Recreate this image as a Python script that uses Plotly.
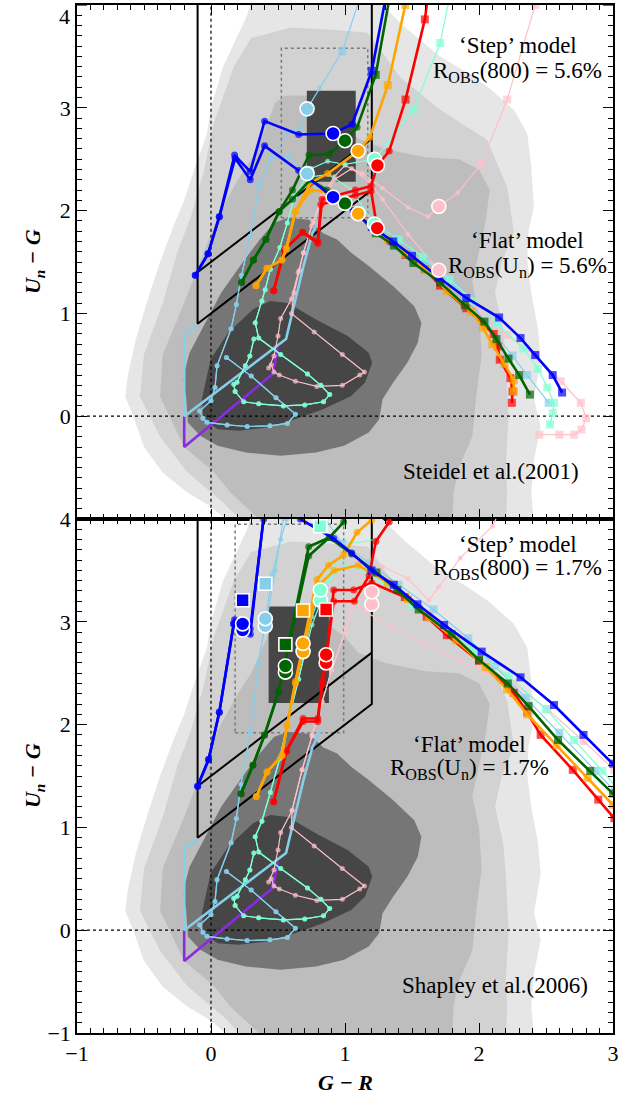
import numpy as np
import plotly.graph_objects as go

X_RANGE = [-1, 3]
Y_RANGE = [-1, 4]

# ---------------- photometric sample: filled density contours (G-R, Un-G) ----------------
CONTOUR_1 = [(0.15, -1.05), (0.0, -0.88), (-0.18, -0.74), (-0.36, -0.55), (-0.5, -0.3), (-0.58, 0.0),
             (-0.64, 0.19), (-0.62, 0.4), (-0.56, 0.75), (-0.48, 1.1), (-0.38, 1.5), (-0.28, 1.85),
             (-0.2, 2.1), (-0.12, 2.42), (-0.03, 2.75), (0.0, 3.0), (0.09, 3.4), (0.17, 3.63),
             (0.27, 3.9), (0.3, 4.05), (1.24, 4.05), (1.45, 3.78), (1.71, 3.5), (1.9, 3.35),
             (2.07, 3.2), (2.26, 2.98), (2.36, 2.75), (2.39, 2.43), (2.41, 2.04), (2.37, 1.8),
             (2.36, 1.52), (2.39, 1.2), (2.44, 0.85), (2.46, 0.55), (2.41, 0.17), (2.46, -0.1),
             (2.41, -0.42), (2.39, -0.74), (2.41, -1.05)]
CONTOUR_2 = [(0.25, -1.05), (0.1, -0.85), (-0.18, -0.54), (-0.38, -0.2), (-0.53, 0.19), (-0.5, 0.6),
             (-0.36, 1.1), (-0.25, 1.6), (-0.15, 1.94), (-0.05, 2.4), (0.02, 2.85), (0.1, 3.15),
             (0.17, 3.4), (0.3, 3.68), (0.6, 3.78), (0.9, 3.76), (1.17, 3.73), (1.3, 3.5),
             (1.41, 3.3), (1.71, 2.98), (2.06, 2.69), (2.21, 2.23), (2.26, 1.79), (2.17, 1.5),
             (2.12, 1.2), (2.18, 0.85), (2.2, 0.55), (2.22, 0.0), (2.2, -0.5), (2.21, -0.74),
             (2.2, -1.05)]
CONTOUR_3 = [(0.4, -1.05), (0.15, -0.75), (0.02, -0.54), (-0.2, -0.3), (-0.38, 0.19), (-0.36, 0.6),
             (-0.2, 1.1), (-0.05, 1.6), (0.05, 1.94), (0.2, 2.3), (0.3, 2.5), (0.42, 2.85),
             (0.48, 3.05), (0.55, 3.12), (0.75, 3.12), (0.85, 3.0), (1.0, 2.85), (1.1, 2.7),
             (1.3, 2.6), (1.6, 2.52), (1.85, 2.5), (2.0, 2.4), (2.08, 2.2), (2.05, 1.9), (2.0, 1.6),
             (1.95, 1.3), (2.0, 1.0), (2.02, 0.6), (1.98, 0.2), (1.95, -0.2), (1.85, -0.5),
             (1.81, -0.74), (1.8, -1.05)]
CONTOUR_4 = [(-0.186, 0.197), (-0.212, 0.359), (-0.16, 0.618), (-0.055, 0.877), (0.076, 1.2),
             (0.233, 1.49), (0.364, 1.72), (0.469, 1.88), (0.574, 1.93), (0.731, 1.91), (0.836, 1.78),
             (0.941, 1.72), (1.046, 1.59), (1.177, 1.46), (1.36, 1.265), (1.517, 1.07), (1.57, 0.909),
             (1.543, 0.715), (1.465, 0.521), (1.36, 0.327), (1.28, 0.165), (1.255, -0.029),
             (1.177, -0.159), (0.993, -0.288), (0.784, -0.353), (0.521, -0.385), (0.26, -0.353),
             (0.05, -0.288), (-0.08, -0.191), (-0.173, -0.061)]
CONTOUR_5 = [(-0.068, 0.165), (-0.003, 0.553), (0.128, 0.812), (0.312, 1.039), (0.443, 1.12),
             (0.574, 1.10), (0.784, 0.94), (1.02, 0.78), (1.177, 0.618), (1.203, 0.521),
             (1.15, 0.327), (1.046, 0.197), (0.836, 0.068), (0.626, -0.029), (0.417, -0.11),
             (0.207, -0.142), (0.05, -0.126), (-0.055, -0.029)]
CONTOURS = [CONTOUR_1, CONTOUR_2, CONTOUR_3, CONTOUR_4, CONTOUR_5]
CONTOUR_SHADES = ["#e6e6e6", "#d2d2d2", "#bdbdbd", "#767676", "#464646"]

# ---------------- colour-selection windows ----------------
SEL_BOX_X = [-0.1, -0.1, 1.2, 1.2]
SEL_BOX_Y = [4.5, 0.9, 2.2, 4.5]
SEL_UPPER_X = [-0.1, 1.2]
SEL_UPPER_Y = [1.4, 2.7]

# observed-sample windows (x0, x1, y0, y1)
S01_CORE = [0.715, 1.08, 2.28, 3.165]
S01_WINDOW = [0.525, 1.17, 1.93, 3.58]
S06_CORE = [0.43, 0.88, 2.21, 3.15]
S06_WINDOW = [0.18, 0.99, 1.92, 3.95]

# low-redshift tracks common to both panels
PURPLE_TRACK = [(-0.2, 0.0), (-0.2, -0.3), (0.46, 0.41), (0.5, 0.66)]
SKY_THICK_TRACK = [(-0.1, 0.88), (-0.2, 0.8), (-0.2, 0.0), (0.56, 0.75), (0.6, 0.97),
                   (0.69, 1.46), (0.757, 1.78), (0.82, 1.95)]

# ---------------- model tracks: (G-R, Un-G, kind)  o = dot, s = square, B = labelled z ----------------
AQUA_LOOP = [(0.32, 0.75), (0.29, 0.585), (0.256, 0.49), (0.194, 0.33), (0.17, 0.31), (0.18, 0.24),
             (0.244, 0.14), (0.356, 0.12), (0.54, 0.10), (0.70, 0.11), (0.84, 0.14), (0.886, 0.21),
             (0.82, 0.30), (0.72, 0.41), (0.52, 0.60), (0.356, 0.76), (0.33, 0.91)]
SKY_LOOP = [(0.115, 0.57), (0.30, 0.39), (0.485, 0.18), (0.63, 0.02), (0.57, -0.07), (0.44, -0.094),
            (0.27, -0.10), (0.12, -0.085), (-0.03, -0.06), (-0.06, -0.02), (-0.085, 0.05),
            (0.0, 0.15), (0.03, 0.28), (0.045, 0.49), (0.15, 0.85), (0.189, 1.087)]
PINK_LOOP = [(0.45, 0.50), (0.47, 0.43), (0.51, 0.40), (0.63, 0.34), (0.79, 0.29), (0.98, 0.30),
             (1.11, 0.40), (1.145, 0.43), (0.98, 0.60), (0.77, 0.82), (0.60, 1.00)]
PINK_COLUMN = [(0.43, 0.47), (0.47, 0.585), (0.50, 0.78), (0.52, 0.95)]

# Steidel et al. (2001) panel
S01_BLUE_STEP = [(-0.117, 1.37), (-0.022, 1.58), (0.062, 1.94), (0.176, 2.54), (0.293, 2.38),
                 (0.40, 2.87), (0.654, 2.74), (0.911, 2.75, 'B'), (1.053, 2.84), (1.20, 3.36, 's'),
                 (1.33, 4.25, 's')]
S01_BLUE_FLAT = [(-0.117, 1.37), (-0.022, 1.58), (0.062, 1.94), (0.18, 2.51), (0.293, 2.30),
                 (0.40, 2.63), (0.654, 2.39), (0.911, 2.13, 'B'), (1.06, 2.00), (1.20, 1.84, 's'),
                 (1.36, 1.70, 's'), (1.50, 1.56, 's'), (1.70, 1.35, 's'), (1.905, 1.15, 's'),
                 (2.15, 0.96, 's'), (2.31, 0.76, 's'), (2.42, 0.595, 's'), (2.55, 0.40, 's'),
                 (2.62, 0.23, 's')]
S01_GREEN_STEP = [(0.228, 1.30), (0.317, 1.52), (0.41, 1.72), (0.508, 1.99), (0.608, 2.20),
                  (0.731, 2.54), (0.883, 2.55), (1.0, 2.68, 'B'), (1.09, 2.81), (1.229, 3.32, 's'),
                  (1.35, 4.2, 's')]
S01_GREEN_FLAT = [(0.228, 1.30), (0.317, 1.52), (0.41, 1.72), (0.508, 1.99), (0.608, 2.11),
                  (0.74, 2.30), (0.866, 2.20), (1.0, 2.07, 'B'), (1.10, 1.96), (1.23, 1.78, 's'),
                  (1.365, 1.66, 's'), (1.51, 1.49, 's'), (1.71, 1.30, 's'), (1.894, 1.08, 's'),
                  (2.04, 0.92, 's'), (2.13, 0.75, 's'), (2.22, 0.56, 's'), (2.30, 0.40, 's'),
                  (2.38, 0.21, 's')]
S01_ORANGE_STEP = [(0.336, 1.27), (0.418, 1.44), (0.53, 1.52), (0.562, 1.63), (0.63, 1.99),
                   (0.742, 2.27), (0.87, 2.36), (1.098, 2.58, 'B'), (1.185, 2.71), (1.32, 3.22, 's'),
                   (1.45, 4.0, 's')]
S01_ORANGE_FLAT = [(0.336, 1.27), (0.418, 1.44), (0.53, 1.52), (0.562, 1.63), (0.63, 1.99),
                   (0.742, 2.20), (0.87, 2.18), (1.098, 1.97, 'B'), (1.20, 1.85), (1.32, 1.72, 's'),
                   (1.45, 1.58, 's'), (1.60, 1.43, 's'), (1.76, 1.22, 's'), (1.94, 1.02, 's'),
                   (2.03, 0.86, 's'), (2.10, 0.70, 's'), (2.19, 0.51, 's'), (2.26, 0.35, 's'),
                   (2.26, 0.24, 's')]
S01_RED_STEP = [(0.468, 1.22), (0.548, 1.62), (0.684, 1.79), (0.797, 1.70), (0.83, 2.11),
                (1.077, 2.20), (1.195, 2.24), (1.242, 2.44, 'B'), (1.33, 2.58), (1.452, 3.08, 's'),
                (1.596, 3.86, 's'), (1.64, 4.3, 's')]
S01_RED_FLAT = [(0.468, 1.22), (0.548, 1.62), (0.684, 1.79), (0.797, 1.68), (0.82, 2.06),
                (1.077, 2.15), (1.195, 2.19), (1.24, 1.83, 'B'), (1.33, 1.70), (1.452, 1.57, 's'),
                (1.596, 1.43, 's'), (1.71, 1.27, 's'), (1.905, 1.05, 's'), (2.11, 0.80, 's'),
                (2.14, 0.68, 's'), (2.155, 0.55, 's'), (2.235, 0.37, 's'), (2.25, 0.24, 's'),
                (2.245, 0.13, 's')]
S01_AQUA_RISE = [(0.38, 1.12), (0.404, 1.23), (0.443, 1.43), (0.514, 1.64), (0.569, 1.88), (0.626, 2.14)]
S01_AQUA_STEP = [(0.75, 2.41), (0.87, 2.48), (1.0, 2.45), (1.22, 2.50, 'B'), (1.33, 2.67),
                 (1.51, 2.98, 's'), (1.71, 3.63, 's'), (1.8, 4.2, 's')]
S01_AQUA_FLAT = [(0.75, 2.33), (0.88, 2.35), (1.05, 2.2), (1.22, 1.87, 'B'), (1.40, 1.72, 's'),
                 (1.58, 1.55, 's'), (1.78, 1.33, 's'), (1.96, 1.12, 's'), (2.136, 0.90, 's'),
                 (2.33, 0.66, 's'), (2.44, 0.46, 's'), (2.51, 0.28, 's'), (2.56, 0.13, 's'),
                 (2.55, 0.03, 's'), (2.53, -0.08, 's')]
S01_SKY_RISE = [(0.228, 1.37), (0.293, 1.75), (0.356, 2.24), (0.45, 2.51)]
S01_SKY_STEP = [(0.58, 2.77), (0.667, 2.80), (0.717, 2.99, 'B'), (0.81, 3.19), (0.98, 3.55, 's'),
                (1.12, 4.1, 's')]
S01_SKY_FLAT = [(0.58, 2.53), (0.717, 2.36, 'B'), (0.80, 2.25), (0.95, 2.12), (1.10, 1.98),
                (1.20, 1.86), (1.37, 1.73, 's'), (1.60, 1.51, 's'), (1.825, 1.265, 's'),
                (2.05, 0.92, 's'), (2.25, 0.59, 's'), (2.36, 0.40, 's'), (2.52, 0.13, 's')]
S01_PINK_STEP = [(0.62, 1.20), (0.66, 1.42), (0.69, 1.59), (0.76, 1.88), (0.83, 2.14), (0.92, 2.33),
                 (1.0, 2.44), (1.13, 2.36), (1.28, 2.22), (1.47, 2.03), (1.62, 1.94), (1.70, 2.04, 'B'),
                 (1.84, 2.17), (2.02, 2.46, 's'), (2.21, 3.08, 's'), (2.42, 4.0, 's')]
S01_PINK_FLAT = [(0.60, 1.14), (0.65, 1.40), (0.69, 1.59), (0.75, 1.85), (0.83, 2.10), (0.92, 2.30),
                 (1.05, 2.41), (1.18, 2.28), (1.28, 2.11), (1.47, 1.77), (1.70, 1.42, 'B'),
                 (1.84, 1.22), (2.02, 1.01, 's'), (2.21, 0.79, 's'), (2.42, 0.585, 's'),
                 (2.61, 0.34, 's'), (2.76, 0.13, 's'), (2.80, -0.02, 's'), (2.765, -0.13, 's'),
                 (2.71, -0.18, 's'), (2.60, -0.18, 's'), (2.45, -0.18, 's')]

# Shapley et al. (2006) panel
S06_BLUE_STEP = [(-0.1, 1.40), (-0.018, 1.66), (0.062, 2.12), (0.169, 2.98), (0.176, 3.02),
                 (0.293, 2.93), (0.393, 4.0), (0.42, 4.3)]
S06_BLUE_FLAT = [(-0.1, 1.40), (-0.018, 1.66), (0.062, 2.12), (0.169, 2.98), (0.293, 2.88),
                 (0.40, 4.1), (0.55, 4.4), (0.667, 4.0), (0.916, 3.81), (1.05, 3.67),
                 (1.197, 3.50, 's'), (1.364, 3.36, 's'), (1.54, 3.17, 's'), (1.74, 2.97, 's'),
                 (2.02, 2.71, 's'), (2.31, 2.46, 's'), (2.56, 2.19, 's'), (2.78, 1.90, 's'),
                 (3.0, 1.62, 's'), (3.15, 1.42, 's')]
S06_GREEN_STEP = [(0.224, 1.327), (0.313, 1.605), (0.40, 1.90), (0.505, 2.32), (0.729, 3.64),
                  (0.883, 3.82), (0.99, 3.97), (1.05, 4.3)]
S06_GREEN_FLAT = [(0.224, 1.327), (0.313, 1.605), (0.40, 1.90), (0.505, 2.32), (0.729, 3.73),
                  (0.883, 3.82), (1.05, 3.66), (1.235, 3.48, 's'), (1.39, 3.31, 's'), (1.55, 3.12, 's'),
                  (1.795, 2.88, 's'), (2.0, 2.63, 's'), (2.215, 2.40, 's'), (2.37, 2.18, 's'),
                  (2.59, 1.85, 's'), (2.83, 1.55, 's'), (3.0, 1.33, 's'), (3.1, 1.2, 's')]
S06_ORANGE_STEP = [(0.338, 1.30), (0.418, 1.54), (0.53, 1.70), (0.567, 1.99), (0.63, 2.42),
                   (0.79, 3.41), (0.878, 3.55), (0.99, 3.65), (1.09, 3.87), (1.2, 3.99), (1.25, 4.3)]
S06_ORANGE_FLAT = [(0.338, 1.30), (0.418, 1.54), (0.53, 1.70), (0.567, 1.99), (0.63, 2.40),
                   (0.80, 3.35), (0.92, 3.50), (1.1, 3.55), (1.32, 3.38, 's'), (1.47, 3.22, 's'),
                   (1.625, 3.04, 's'), (1.83, 2.82, 's'), (2.05, 2.56, 's'), (2.21, 2.34, 's'),
                   (2.36, 2.10, 's'), (2.58, 1.80, 's'), (2.81, 1.48, 's'), (3.0, 1.22, 's'),
                   (3.1, 1.08, 's')]
S06_RED_STEP = [(0.468, 1.25), (0.562, 1.74), (0.687, 2.03), (0.797, 2.03), (0.83, 2.40),
                (0.859, 2.64), (0.916, 3.20), (1.07, 3.20), (1.18, 3.45), (1.23, 3.78),
                (1.33, 3.97), (1.38, 4.3)]
S06_RED_FLAT = [(0.468, 1.25), (0.562, 1.74), (0.687, 2.06), (0.797, 2.06), (0.83, 2.42),
                (0.859, 2.64), (0.916, 3.31), (1.065, 3.31), (1.2, 3.38), (1.446, 3.24, 's'),
                (1.61, 3.05, 's'), (1.76, 2.87, 's'), (2.0, 2.62, 's'), (2.26, 2.31, 's'),
                (2.36, 2.12, 's'), (2.46, 1.90, 's'), (2.70, 1.56, 's'), (2.89, 1.27, 's'),
                (3.01, 1.09, 's'), (3.1, 0.95, 's')]
S06_AQUA_RISE = [(0.38, 1.06), (0.443, 1.34), (0.513, 1.67), (0.567, 1.99), (0.654, 2.44)]
S06_AQUA_STEP = [(0.754, 3.05), (0.866, 3.45), (0.99, 3.65), (1.03, 3.76), (1.23, 3.80),
                 (1.33, 3.97), (1.4, 4.3)]
S06_AQUA_FLAT = [(0.754, 2.97), (0.88, 3.40), (1.0, 3.55), (1.15, 3.50), (1.30, 3.36, 's'),
                 (1.50, 3.16, 's'), (1.72, 2.95, 's'), (1.96, 2.73, 's'), (2.22, 2.47, 's'),
                 (2.50, 2.15, 's'), (2.71, 1.85, 's'), (2.92, 1.55, 's'), (3.05, 1.35, 's')]
S06_SKY_RISE = [(0.224, 1.42), (0.293, 1.92), (0.356, 2.60), (0.405, 3.0)]
S06_SKY_STEP = [(0.455, 3.46), (0.52, 3.80), (0.567, 4.0), (0.6, 4.3)]
S06_SKY_FLAT = [(0.42, 3.05), (0.48, 3.50), (0.54, 4.0), (0.6, 4.4), (0.8, 4.1),
                (0.98, 3.76, 's'), (1.18, 3.57, 's'), (1.40, 3.36, 's'), (1.66, 3.12, 's'),
                (1.92, 2.84, 's'), (2.12, 2.57, 's'), (2.35, 2.26, 's'), (2.60, 1.92, 's'),
                (2.87, 1.55, 's'), (3.05, 1.3, 's')]
S06_PINK_RISE = [(0.605, 1.165), (0.68, 1.56), (0.754, 1.89), (0.829, 2.22), (0.90, 2.53),
                 (1.008, 2.93), (1.07, 3.21)]
S06_PINK_STEP = [(1.15, 3.40), (1.277, 3.54), (1.47, 3.42), (1.625, 3.21), (1.70, 3.34),
                 (1.86, 3.62), (2.10, 3.93), (2.2, 4.2)]
S06_PINK_FLAT = [(1.15, 3.10), (1.35, 2.95), (1.6, 2.78), (1.85, 2.62), (2.05, 2.52, 's'),
                 (2.26, 2.40, 's'), (2.51, 2.15, 's'), (2.78, 1.84, 's'), (3.01, 1.56, 's')]

# labelled-redshift markers of the Shapley et al. panel: (G-R, Un-G) pairs and squares
S06_LABEL_CIRCLES = {
    "#0000ff": [(0.236, 2.92), (0.236, 2.98)],
    "#87ceeb": [(0.405, 2.96), (0.405, 3.03)],
    "#006400": [(0.555, 2.51), (0.555, 2.57)],
    "#ffa500": [(0.687, 2.71), (0.687, 2.79)],
    "#7fffd4": [(0.816, 3.21), (0.816, 3.31)],
    "#ff0000": [(0.859, 2.60), (0.859, 2.68)],
    "#ffc0cb": [(1.20, 3.17), (1.20, 3.29)],
}
S06_LABEL_SQUARES = {
    "#0000ff": (0.236, 3.21),
    "#87ceeb": (0.405, 3.37),
    "#006400": (0.555, 2.78),
    "#ffa500": (0.687, 3.11),
    "#7fffd4": (0.815, 3.93),
    "#ff0000": (0.859, 3.12),
}

BLUE, GREEN, ORANGE, RED = "#0000ff", "#006400", "#ffa500", "#ff0000"
AQUA, SKY, PINK, PURPLE = "#7fffd4", "#87ceeb", "#ffc0cb", "#8a2be2"

FONT = "Liberation Serif"

fig = go.Figure()
AX = {1: ("x", "y"), 2: ("x2", "y2")}


def pts_xy(pts):
    return [p[0] for p in pts], [p[1] for p in pts]


def add_poly(panel, pts, fill):
    xs, ys = pts_xy(pts)
    xa, ya = AX[panel]
    fig.add_trace(go.Scatter(x=xs + [xs[0]], y=ys + [ys[0]], mode="lines", fill="toself",
                             fillcolor=fill, line=dict(width=0, color=fill), hoverinfo="skip",
                             xaxis=xa, yaxis=ya))


def add_rect(panel, box, fill=None, dash=None, color=None, width=1.5):
    x0, x1, y0, y1 = box
    xa, ya = AX[panel]
    xs = [x0, x1, x1, x0, x0]
    ys = [y0, y0, y1, y1, y0]
    if fill:
        fig.add_trace(go.Scatter(x=xs, y=ys, mode="lines", fill="toself", fillcolor=fill,
                                 line=dict(width=0, color=fill), hoverinfo="skip", xaxis=xa, yaxis=ya))
    else:
        fig.add_trace(go.Scatter(x=xs, y=ys, mode="lines", line=dict(color=color, width=width, dash=dash),
                                 hoverinfo="skip", xaxis=xa, yaxis=ya))


def add_line(panel, xs, ys, color, width, dash=None):
    xa, ya = AX[panel]
    fig.add_trace(go.Scatter(x=xs, y=ys, mode="lines", line=dict(color=color, width=width, dash=dash),
                             hoverinfo="skip", xaxis=xa, yaxis=ya))


big_markers = {1: [], 2: []}


def add_track(panel, pts, color, thick):
    xs, ys = pts_xy(pts)
    kinds = [p[2] if len(p) > 2 else "o" for p in pts]
    dot = 7 if thick else 5
    symbols = ["square" if k == "s" else "circle" for k in kinds]
    sizes = [8 if k == "s" else dot for k in kinds]
    xa, ya = AX[panel]
    fig.add_trace(go.Scatter(x=xs, y=ys, mode="lines+markers",
                             line=dict(color=color, width=2.6 if thick else 1.2),
                             marker=dict(symbol=symbols, size=sizes, color=color, line=dict(width=0)),
                             hoverinfo="skip", xaxis=xa, yaxis=ya))
    for p, k in zip(pts, kinds):
        if k == "B":
            big_markers[panel].append((p[0], p[1], color))


for panel in (1, 2):
    for pts, shade in zip(CONTOURS, CONTOUR_SHADES):
        add_poly(panel, pts, shade)

add_rect(1, S01_CORE, fill="#464646")
add_rect(2, S06_CORE, fill="#464646")
add_rect(1, S01_WINDOW, dash="dot", color="#7a7a7a", width=1.5)
add_rect(2, S06_WINDOW, dash="dot", color="#7a7a7a", width=1.5)

for panel in (1, 2):
    add_line(panel, [0, 0], [Y_RANGE[0] - 1, Y_RANGE[1] + 1], "black", 1.2, dash="dot")
    add_line(panel, [X_RANGE[0] - 1, X_RANGE[1] + 1], [0, 0], "black", 1.2, dash="dot")
    add_line(panel, SEL_BOX_X, SEL_BOX_Y, "black", 2)
    add_line(panel, SEL_UPPER_X, SEL_UPPER_Y, "black", 2)
    px, py = pts_xy(PURPLE_TRACK)
    add_line(panel, px, py, PURPLE, 2.6)
    sx, sy = pts_xy(SKY_THICK_TRACK)
    add_line(panel, sx, sy, SKY, 2.6)

# Steidel et al. panel tracks
add_track(1, PINK_LOOP + S01_PINK_STEP, PINK, False)
add_track(1, PINK_COLUMN + S01_PINK_FLAT, PINK, False)
add_track(1, SKY_LOOP + S01_SKY_RISE + S01_SKY_STEP, SKY, False)
add_track(1, SKY_LOOP + S01_SKY_RISE + S01_SKY_FLAT, SKY, False)
add_track(1, AQUA_LOOP + S01_AQUA_RISE + S01_AQUA_STEP, AQUA, False)
add_track(1, AQUA_LOOP + S01_AQUA_RISE + S01_AQUA_FLAT, AQUA, False)
for step, flat, col in [(S01_RED_STEP, S01_RED_FLAT, RED), (S01_ORANGE_STEP, S01_ORANGE_FLAT, ORANGE),
                        (S01_GREEN_STEP, S01_GREEN_FLAT, GREEN), (S01_BLUE_STEP, S01_BLUE_FLAT, BLUE)]:
    add_track(1, flat, col, True)
    add_track(1, step, col, True)

# Shapley et al. panel tracks
add_track(2, PINK_LOOP + S06_PINK_RISE + S06_PINK_STEP, PINK, False)
add_track(2, PINK_COLUMN + S06_PINK_RISE + S06_PINK_FLAT, PINK, False)
add_track(2, SKY_LOOP + S06_SKY_RISE + S06_SKY_STEP, SKY, False)
add_track(2, SKY_LOOP + S06_SKY_RISE + S06_SKY_FLAT, SKY, False)
add_track(2, AQUA_LOOP + S06_AQUA_RISE + S06_AQUA_STEP, AQUA, False)
add_track(2, AQUA_LOOP + S06_AQUA_RISE + S06_AQUA_FLAT, AQUA, False)
for step, flat, col in [(S06_RED_STEP, S06_RED_FLAT, RED), (S06_ORANGE_STEP, S06_ORANGE_FLAT, ORANGE),
                        (S06_GREEN_STEP, S06_GREEN_FLAT, GREEN), (S06_BLUE_STEP, S06_BLUE_FLAT, BLUE)]:
    add_track(2, flat, col, True)
    add_track(2, step, col, True)

# labelled redshift markers (white rim)
for bx, by, col in big_markers[1]:
    fig.add_trace(go.Scatter(x=[bx], y=[by], mode="markers",
                             marker=dict(symbol="circle", size=14, color=col, line=dict(color="white", width=1.6)),
                             hoverinfo="skip", xaxis="x", yaxis="y"))
for col, pair in S06_LABEL_CIRCLES.items():
    for bx, by in pair:
        fig.add_trace(go.Scatter(x=[bx], y=[by], mode="markers",
                                 marker=dict(symbol="circle", size=14, color=col,
                                             line=dict(color="white", width=1.6)),
                                 hoverinfo="skip", xaxis="x2", yaxis="y2"))
for col, (bx, by) in S06_LABEL_SQUARES.items():
    fig.add_trace(go.Scatter(x=[bx], y=[by], mode="markers",
                             marker=dict(symbol="square", size=13, color=col, line=dict(color="white", width=1.6)),
                             hoverinfo="skip", xaxis="x2", yaxis="y2"))

minor_x = [round(v, 2) for v in np.arange(X_RANGE[0], X_RANGE[1] + 0.001, 0.1)]
minor_y = [round(v, 2) for v in np.arange(Y_RANGE[0], Y_RANGE[1] + 0.001, 0.1)]


def axis_style(rng, tickvals, minor_vals, show_labels=True):
    return dict(range=rng, showline=True, linecolor="black", linewidth=1.5, mirror="ticks",
                ticks="inside", ticklen=10, tickwidth=1.2, tickcolor="black",
                tickmode="array", tickvals=tickvals, showticklabels=show_labels,
                showgrid=False, zeroline=False, automargin=False,
                tickfont=dict(family=FONT, size=22, color="black"),
                minor=dict(ticks="inside", ticklen=5, tickwidth=1, tickcolor="black",
                           tickmode="array", tickvals=minor_vals, showgrid=False))


fig.update_layout(
    width=619, height=1095,
    margin=dict(l=77, r=6, t=5, b=62, autoexpand=False),
    paper_bgcolor="white", plot_bgcolor="white",
    showlegend=False,
    font=dict(family=FONT, size=22, color="black"),
    xaxis=dict(axis_style(X_RANGE, [-1, 0, 1, 2, 3], minor_x, show_labels=False), anchor="y", domain=[0, 1]),
    yaxis=dict(axis_style(Y_RANGE, [0, 1, 2, 3], minor_y), anchor="x", domain=[0.5, 1]),
    xaxis2=dict(axis_style(X_RANGE, [-1, 0, 1, 2, 3], minor_x), anchor="y2", domain=[0, 1]),
    yaxis2=dict(axis_style(Y_RANGE, [-1, 0, 1, 2, 3, 4], minor_y), anchor="x2", domain=[0, 0.5]),
)
# the major tick at the very top of the upper panel keeps its label inside the page
fig.add_shape(type="line", xref="x", yref="y", x0=X_RANGE[0], x1=X_RANGE[0] + 0.075, y0=4, y1=4,
              line=dict(color="black", width=1.2))
fig.add_shape(type="line", xref="x", yref="y", x0=X_RANGE[1] - 0.075, x1=X_RANGE[1], y0=4, y1=4,
              line=dict(color="black", width=1.2))
fig.add_annotation(x=-0.0095, y=4, xref="paper", yref="y", text="4", showarrow=False,
                   xanchor="right", yanchor="top", yshift=3,
                   font=dict(family=FONT, size=22, color="black"))

notes = [
    ("x", "y", 2.29, 3.61, "‘Step’ model"),
    ("x", "y", 2.29, 3.35, "R<sub>OBS</sub>(800) = 5.6%"),
    ("x", "y", 2.36, 1.71, "‘Flat’ model"),
    ("x", "y", 2.36, 1.45, "R<sub>OBS</sub>(U<sub>n</sub>) = 5.6%"),
    ("x", "y", 2.09, -0.54, "Steidel et al.(2001)"),
    ("x2", "y2", 2.29, 3.75, "‘Step’ model"),
    ("x2", "y2", 2.29, 3.51, "R<sub>OBS</sub>(800) = 1.7%"),
    ("x2", "y2", 1.93, 1.81, "‘Flat’ model"),
    ("x2", "y2", 1.93, 1.57, "R<sub>OBS</sub>(U<sub>n</sub>) = 1.7%"),
    ("x2", "y2", 2.12, -0.54, "Shapley et al.(2006)"),
]
for xr, yr, ax_, ay_, txt in notes:
    fig.add_annotation(x=ax_, y=ay_, xref=xr, yref=yr, text=txt, showarrow=False,
                       xanchor="center", yanchor="middle",
                       font=dict(family=FONT, size=23, color="black"))

for ypos in (0.75, 0.25):
    fig.add_annotation(x=-0.080, y=ypos, xref="paper", yref="paper", textangle=-90,
                       text="<b><i>U<sub>n</sub> − G</i></b>", showarrow=False,
                       xanchor="center", yanchor="middle",
                       font=dict(family=FONT, size=22, color="black"))
fig.add_annotation(x=0.5, y=-0.0477, xref="paper", yref="paper", text="<b><i>G − R</i></b>",
                   showarrow=False, xanchor="center", yanchor="middle",
                   font=dict(family=FONT, size=22, color="black"))

fig.write_html("out.html")
